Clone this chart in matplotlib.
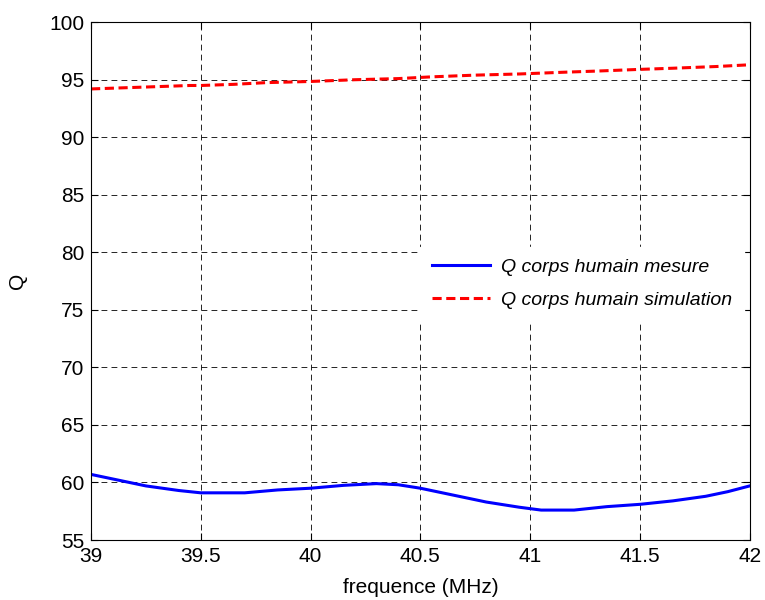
import numpy as np
import matplotlib.pyplot as plt

plt.rcParams['font.family'] = ['Liberation Sans', 'DejaVu Sans']

# valeurs
freq_mes = [39.0, 39.1, 39.25, 39.4, 39.5, 39.7, 39.85, 40.0, 40.15, 40.3, 40.4, 40.5, 40.65, 40.8, 40.95, 41.05, 41.2, 41.35, 41.5, 41.65, 41.8, 41.9, 42.0]
q_mesure = [60.7, 60.3, 59.7, 59.3, 59.1, 59.1, 59.35, 59.5, 59.75, 59.9, 59.8, 59.5, 58.9, 58.3, 57.85, 57.6, 57.6, 57.9, 58.1, 58.4, 58.8, 59.2, 59.7]

freq_sim = [39.0, 39.15, 39.3, 39.45, 39.5, 39.65, 39.8, 40.0, 40.2, 40.4, 40.55, 40.75, 40.95, 41.15, 41.3, 41.5, 41.65, 41.85, 42.0]
q_simulation = [94.2, 94.3, 94.4, 94.5, 94.5, 94.6, 94.75, 94.85, 95.0, 95.1, 95.25, 95.4, 95.5, 95.65, 95.75, 95.9, 96.0, 96.15, 96.3]

fig = plt.figure(figsize=(7.65, 6), dpi=100)
ax = fig.add_axes([0.119, 0.1, 0.861, 0.863])

ax.plot(freq_mes, q_mesure, color='blue', lw=2.2, label='Q corps humain mesure')
ax.plot(freq_sim, q_simulation, color='red', lw=2.2, ls='--', dashes=(3, 1.5), label='Q corps humain simulation')

ax.set_xlim(39, 42)
ax.set_ylim(55, 100)
ax.set_xticks(np.arange(39, 42.01, 0.5))
ax.set_xticklabels(['39', '39.5', '40', '40.5', '41', '41.5', '42'])
ax.set_yticks(np.arange(55, 101, 5))
ax.grid(True, color='black', ls=(0, (7, 5)), lw=0.6)
ax.tick_params(direction='in', top=True, right=True, labelsize=15, length=5, pad=5)
ax.set_xlabel('frequence (MHz)', fontsize=15, labelpad=9)
ax.set_ylabel('Q', fontsize=15, labelpad=16)

leg = ax.legend(loc='center right', bbox_to_anchor=(1.0, 0.495),
                prop={'style': 'italic', 'size': 14}, frameon=True, fancybox=False,
                edgecolor='white', framealpha=1, handlelength=3.0, handletextpad=0.55,
                borderpad=0.6, borderaxespad=0.3, labelspacing=0.8)

fig.savefig('out.png', dpi=100)
